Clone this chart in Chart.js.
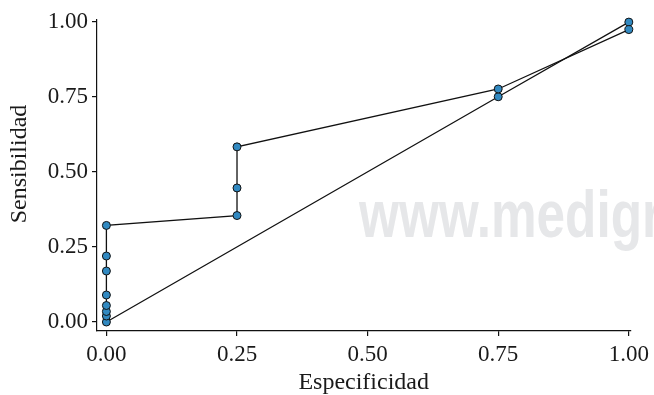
<!DOCTYPE html>
<html>
<head>
<meta charset="utf-8">
<script src="https://cdn.jsdelivr.net/npm/chart.js@4"></script>
<style>
  html, body { margin: 0; padding: 0; background: #fff; }
  #wrap { width: 654px; height: 395px; }
</style>
</head>
<body>
<div id="wrap"><canvas id="roc" width="654" height="395"></canvas></div>
<script>
// data
const tickValues = [0, 0.25, 0.5, 0.75, 1];
const curveEsp = [0, 0, 0, 0, 0, 0, 0, 0.25, 0.25, 0.25, 0.75, 1];
const curveSens = [0.02, 0.035, 0.055, 0.09, 0.17, 0.22, 0.322, 0.355, 0.447, 0.584, 0.777, 0.975];
const diagEsp = [0, 0.75, 1];
const diagSens = [0, 0.751, 1];
const xTitle = 'Especificidad';
const yTitle = 'Sensibilidad';
const watermark = 'www.medigraphic.com';

// style
const serif = '"Liberation Serif", "Times New Roman", serif';
const ink = '#1a1a1a';
const pointFill = '#3189c1';

function toPoints(xs, ys) {
  return xs.map((x, i) => ({ x: x, y: ys[i] }));
}

function lineDataset(points) {
  return {
    data: points,
    showLine: true,
    borderColor: '#111',
    borderWidth: 1.3,
    pointRadius: 4,
    pointHoverRadius: 4,
    pointBackgroundColor: pointFill,
    pointBorderColor: '#111',
    pointBorderWidth: 1,
    clip: false,
  };
}

const watermarkPlugin = {
  id: 'watermark',
  beforeDatasetsDraw(chart) {
    const ctx = chart.ctx;
    ctx.save();
    ctx.font = 'bold 66px "Liberation Sans", Arial, sans-serif';
    const w = ctx.measureText('www.medig').width;
    ctx.translate(359, 237);
    ctx.scale(283 / w, 1);
    ctx.fillStyle = '#e6e7e9';
    ctx.textBaseline = 'alphabetic';
    ctx.fillText(watermark, 0, 0);
    ctx.restore();
  }
};

const yTitlePlugin = {
  id: 'yTitle',
  afterDraw(chart) {
    const ctx = chart.ctx;
    ctx.save();
    ctx.translate(20, 164);
    ctx.rotate(-Math.PI / 2);
    ctx.font = '24px ' + serif;
    ctx.fillStyle = ink;
    ctx.textAlign = 'center';
    ctx.textBaseline = 'middle';
    ctx.fillText(yTitle, 0, 0);
    ctx.restore();
  }
};

function axisTicks(scale) {
  scale.ticks = tickValues.map(v => ({ value: v }));
}

new Chart(document.getElementById('roc'), {
  type: 'scatter',
  data: {
    datasets: [
      lineDataset(toPoints(curveEsp, curveSens)),
      lineDataset(toPoints(diagEsp, diagSens)),
    ]
  },
  options: {
    responsive: false,
    animation: false,
    layout: { padding: { top: 20, right: 20, left: 0, bottom: 0 } },
    plugins: {
      legend: { display: false },
      tooltip: { enabled: false },
    },
    scales: {
      x: {
        type: 'linear',
        min: -0.018,
        max: 1.003,
        afterBuildTicks: axisTicks,
        afterFit(scale) { scale.height = 64; },
        border: { display: true, color: '#111', width: 1.2 },
        grid: { display: true, drawOnChartArea: false, drawTicks: true, tickLength: 5, color: '#111', lineWidth: 1.2 },
        ticks: {
          color: ink,
          font: { family: serif, size: 23 },
          padding: 5,
          maxRotation: 0,
          callback: v => v.toFixed(2),
        },
        title: {
          display: true,
          text: xTitle,
          color: ink,
          font: { family: serif, size: 24 },
          padding: { top: 0, bottom: -2 },
        },
      },
      y: {
        type: 'linear',
        min: -0.03,
        max: 1.007,
        afterBuildTicks: axisTicks,
        afterFit(scale) { scale.width = 97; },
        border: { display: true, color: '#111', width: 1.2 },
        grid: { display: true, drawOnChartArea: false, drawTicks: true, tickLength: 5, color: '#111', lineWidth: 1.2 },
        ticks: {
          color: ink,
          font: { family: serif, size: 23 },
          padding: 4,
          callback: v => v.toFixed(2),
        },
        title: { display: false },
      },
    },
  },
  plugins: [watermarkPlugin, yTitlePlugin],
});
</script>
</body>
</html>
